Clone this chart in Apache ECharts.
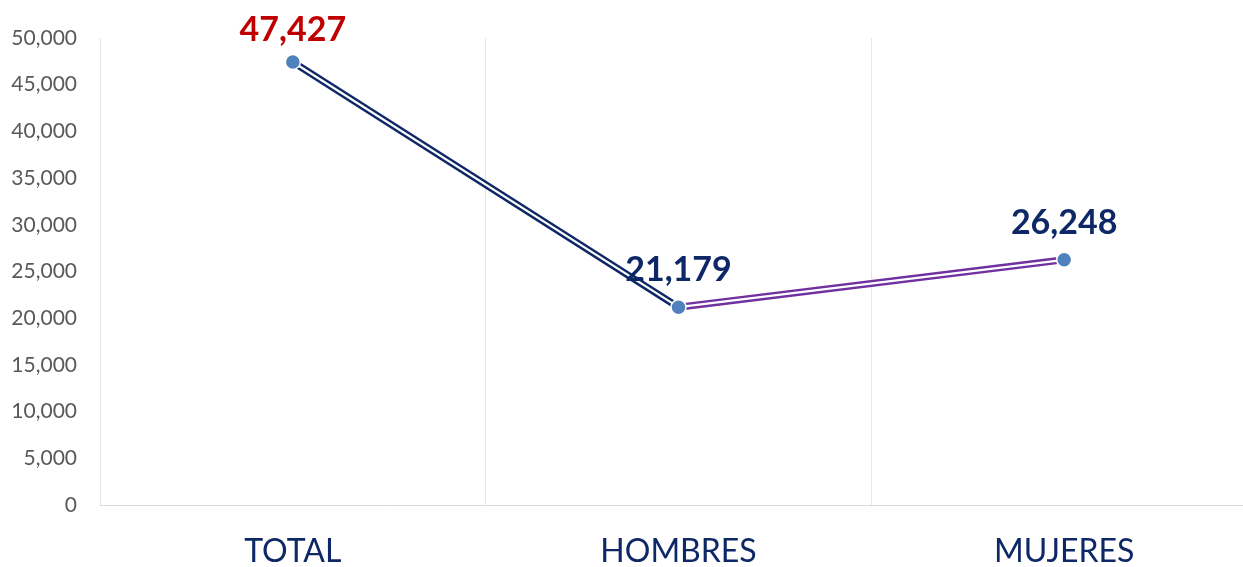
<!DOCTYPE html>
<html>
<head>
<meta charset="utf-8">
<script src="https://cdn.jsdelivr.net/npm/echarts@6/dist/echarts.min.js"></script>
<style>
html,body{margin:0;padding:0;background:#fff;}
#chart{width:1243px;height:567px;}
</style>
</head>
<body>
<div id="chart"></div>
<script>
const categories = ['TOTAL', 'HOMBRES', 'MUJERES'];
const values = [47427, 21179, 26248];
const yTicks = { min: 0, max: 50000, interval: 5000 };
const labelColors = ['#C00000', '#0E2766', '#0E2766'];

const seg1 = [values[0], values[1], '-'];
const seg2 = ['-', values[1], values[2]];

const chart = echarts.init(document.getElementById('chart'));
const fmt = v => v.toLocaleString('en-US');

chart.setOption({
  animation: false,
  backgroundColor: '#ffffff',
  grid: { left: 100, right: -14, top: 38, bottom: 62, outerBoundsMode: 'none', containLabel: false },
  xAxis: {
    type: 'category',
    data: categories,
    boundaryGap: true,
    axisLine: { show: true, lineStyle: { color: '#D9D9D9', width: 1 } },
    axisTick: { show: false },
    axisLabel: { color: '#0E2766', fontFamily: 'Lato', fontSize: 32, margin: 31 },
    splitLine: { show: true, lineStyle: { color: '#E6E6E6', width: 1 } }
  },
  yAxis: {
    type: 'value',
    min: yTicks.min, max: yTicks.max, interval: yTicks.interval,
    axisLine: { show: false },
    axisTick: { show: false },
    splitLine: { show: false },
    axisLabel: { color: '#595959', fontFamily: 'Lato', fontSize: 21, margin: 23, formatter: v => fmt(v) }
  },
  series: [
    { type: 'line', data: seg1, showSymbol: false, lineStyle: { color: '#0E2766', width: 7 }, z: 2 },
    { type: 'line', data: seg2, showSymbol: false, lineStyle: { color: '#7030A0', width: 7 }, z: 2 },
    { type: 'line', data: seg1, showSymbol: false, lineStyle: { color: '#ffffff', width: 2.2 }, z: 3 },
    { type: 'line', data: seg2, showSymbol: false, lineStyle: { color: '#ffffff', width: 2.2 }, z: 3 },
    {
      type: 'line',
      data: values.map((v, i) => ({
        value: v,
        label: { color: labelColors[i], distance: i === 0 ? 7 : 12 }
      })),
      lineStyle: { opacity: 0, width: 0 },
      symbol: 'circle',
      symbolSize: 15,
      showSymbol: true,
      itemStyle: { color: '#4F81BD', borderColor: '#ffffff', borderWidth: 1.5 },
      label: {
        show: true, position: 'top',
        fontFamily: 'Lato', fontWeight: 'bold', fontSize: 34,
        formatter: p => fmt(p.value)
      },
      z: 5
    }
  ]
});
</script>
</body>
</html>
